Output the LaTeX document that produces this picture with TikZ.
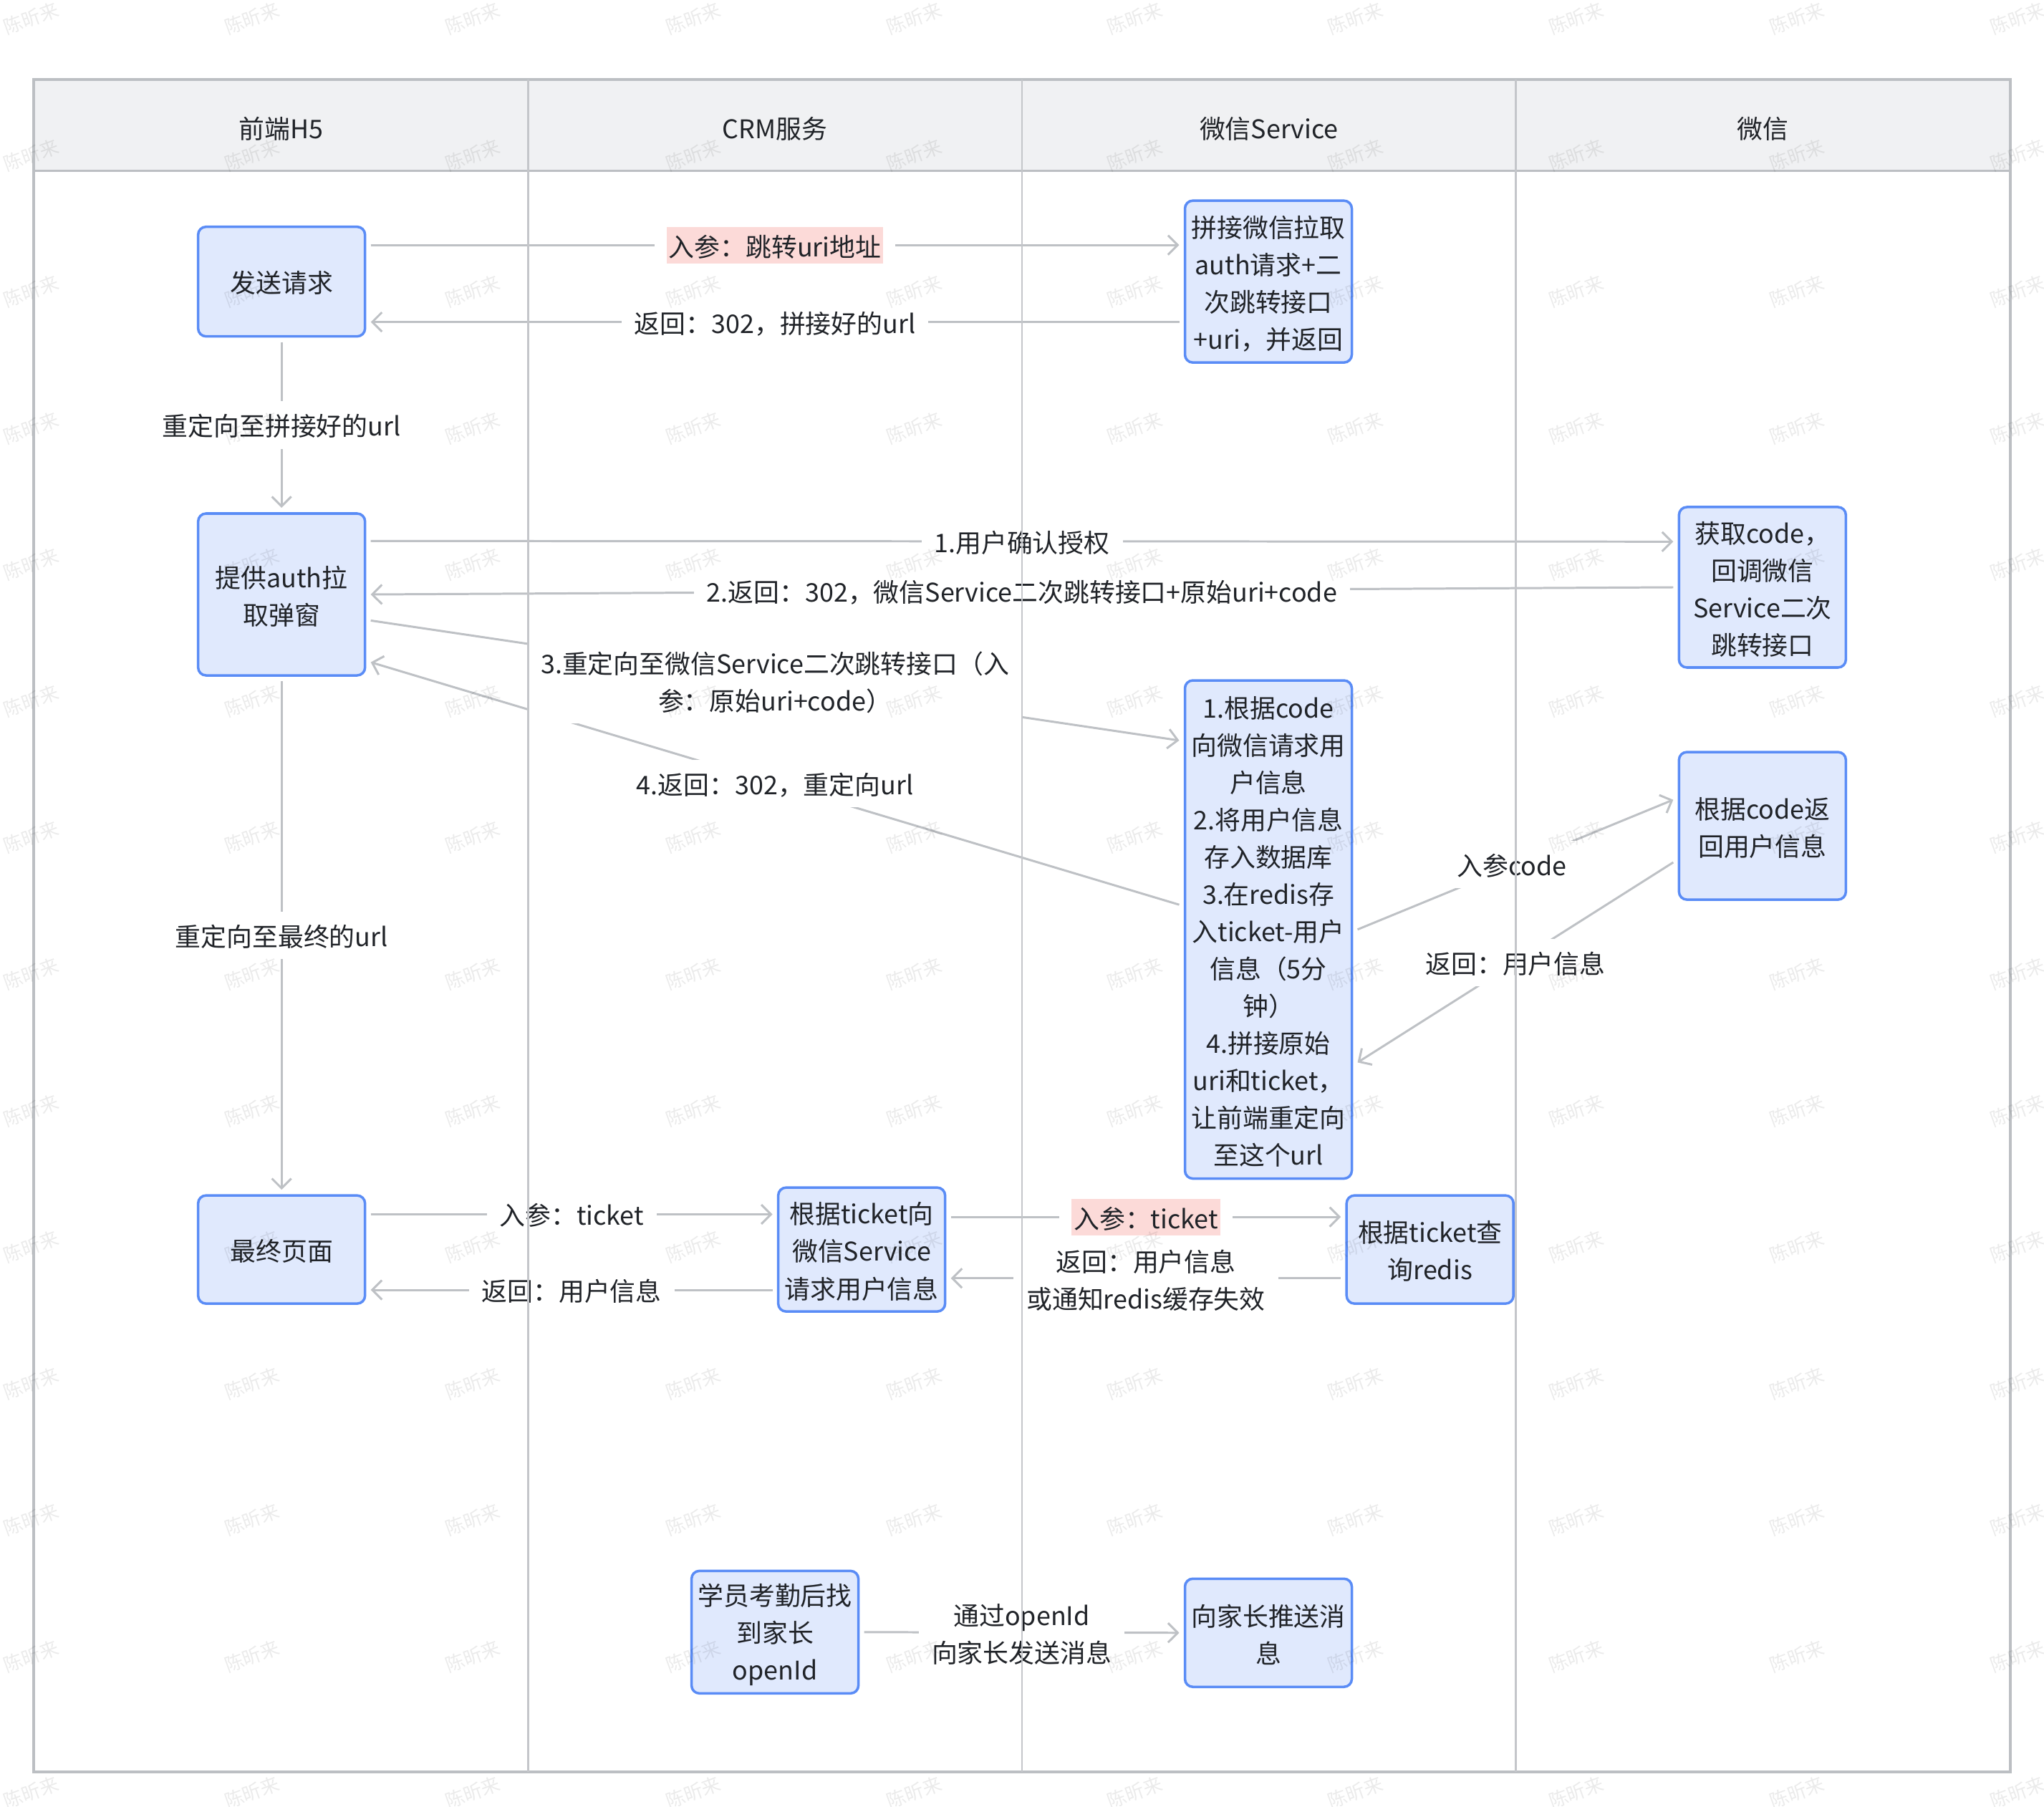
\documentclass[tikz,border=0pt]{standalone}
\usepackage{fontspec}
\setmainfont{Noto Sans CJK SC}
\usetikzlibrary{arrows.meta,calc}
\definecolor{nodefill}{HTML}{E0E9FD}
\definecolor{nodeline}{HTML}{5A8CF6}
\definecolor{edgec}{HTML}{BEC1C5}
\definecolor{lanec}{HTML}{C4C6CA}
\definecolor{framec}{HTML}{BCBFC3}
\definecolor{headfill}{HTML}{F0F1F3}
\definecolor{pinkbg}{HTML}{FCDAD8}
\definecolor{txt}{HTML}{202328}
\pgfdeclarelayer{fg}
\pgfsetlayers{main,fg}
\newcommand{\mainfs}{\fontsize{10.2pt}{14.8pt}\selectfont}
\newcommand{\T}{\rule[-1.2pt]{0pt}{11.7pt}}
\newcommand{\Ts}{\rule[-1.2pt]{0pt}{11.2pt}}
\tikzset{
  nbox/.style={draw=nodeline, fill=nodefill, line width=1pt, rounded corners=1.1mm,
    minimum width=23.3mm, inner xsep=1pt, inner ysep=1pt, outer sep=0.8mm,
    align=center, text=txt, font=\mainfs},
  conn/.style={draw=edgec, line width=0.85pt,
    -{Straight Barb[length=1.35mm,width=2.7mm]}},
  lbl/.style={fill=white, text=txt, font=\mainfs, align=center,
    inner xsep=1.8mm, inner ysep=1.35mm},
  pinklbl/.style={fill=pinkbg, text=txt, font=\mainfs, align=center,
    inner xsep=0.3mm, inner ysep=0pt, text height=11.9pt, text depth=2.6pt,
    preaction={draw=white, line width=3.4mm}},
  lanel/.style={draw=lanec, line width=0.8pt},
  hdr/.style={text=txt, font=\mainfs},
  wm/.style={text=black, text opacity=0.08, font=\fontsize{7.5pt}{9pt}\selectfont, rotate=20, inner sep=0pt},
}
\begin{document}
\begin{tikzpicture}[x=0.182mm,y=-0.182mm]
\useasboundingbox (0,0) rectangle (1568,1385.7);
% frame and header
\fill[headfill] (26,61) rectangle (1542,131);
\draw[framec, line width=1.1pt] (26,61) rectangle (1542,1359);
\draw[framec, line width=1.1pt] (26,131) -- (1542,131);
\node[hdr] (h1) at (215.5,98) {\Ts 前端H5\Ts};
\node[hdr] (h2) at (594.5,98) {\Ts CRM服务\Ts};
\node[hdr] (h3) at (973.5,98) {\Ts 微信Service\Ts};
\node[hdr] (h4) at (1352.5,98) {\Ts 微信\Ts};

% nodes
\node[nbox, minimum height=15.3mm] (send) at (216,216) {\Ts 发送请求\Ts};
\node[nbox, minimum height=22.6mm] (pinjie) at (973,216) {\T 拼接微信拉取\\auth请求+二\\次跳转接口\\+uri，并返回\T};
\node[nbox, minimum height=22.6mm] (auth) at (216,456) {\T 提供auth拉\\取弹窗\T};
\node[nbox, minimum height=22.4mm] (huoqu) at (1352,450.5) {\T 获取code，\\回调微信\\Service二次\\跳转接口\T};
\node[nbox, minimum height=69.55mm] (gen) at (973,713) {\T 1.根据code\\向微信请求用\\户信息\\2.将用户信息\\存入数据库\\3.在redis存\\入ticket-用户\\信息（5分\\钟）\\4.拼接原始\\uri和ticket，\\让前端重定向\\至这个url\T};
\node[nbox, minimum height=20.6mm] (cr) at (1352,633.5) {\T 根据code返\\回用户信息\T};
\node[nbox, minimum height=15.1mm] (final) at (216,958.5) {\Ts 最终页面\Ts};
\node[nbox, minimum height=17.3mm] (tq) at (661,958.5) {\T 根据ticket向\\微信Service\\请求用户信息\T};
\node[nbox, minimum height=15.1mm] (tr) at (1097,958.5) {\T 根据ticket查\\询redis\T};
\node[nbox, minimum height=17.1mm] (xy) at (594.5,1252) {\T 学员考勤后找\\到家长\\openId\T};
\node[nbox, minimum height=15.1mm] (tui) at (973,1252.5) {\T 向家长推送消\\息\T};

% connectors
\draw[conn] ($(send.east)+(0,-28)$) -- node[pinklbl] (l1) {入参：跳转uri地址} ($(pinjie.west)+(0,-28)$);
\draw[conn] ($(pinjie.west)+(0,31)$) -- node[lbl] (l2) {\Ts 返回：302，拼接好的url\Ts} ($(send.east)+(0,31)$);
\draw[conn] (send.south) -- node[lbl] (l3) {\Ts 重定向至拼接好的url\Ts} (auth.north);
\draw[conn] ($(auth.east)+(0,-41)$) -- node[lbl] (l4) {\Ts 1.用户确认授权\Ts} ($(huoqu.west)+(0,-35)$);
\draw[conn] (huoqu.west) -- node[lbl] (l5) {\Ts 2.返回：302，微信Service二次跳转接口+原始uri+code\Ts} (auth.east);
\draw[conn] ($(gen.west)+(0,-19)$) -- node[lbl] (l7) {\Ts 4.返回：302，重定向url\Ts} ($(auth.east)+(0,52)$);
\draw[conn] ($(auth.east)+(0,20)$) -- node[lbl] (l6) {\T 3.重定向至微信Service二次跳转接口（入\\参：原始uri+code）\T} ($(gen.west)+(0,-145)$);
\draw[conn] (gen.east) -- node[lbl, xshift=-0.5mm] (l8) {\Ts 入参code\Ts} ($(cr.west)+(0,-20)$);
\draw[conn] ($(cr.west)+(0,28)$) -- node[lbl] (l9) {\Ts 返回：用户信息\Ts} ($(gen.east)+(0,102)$);
\draw[conn] (auth.south) -- node[lbl] (l10) {\Ts 重定向至最终的url\Ts} (final.north);
\draw[conn] ($(final.east)+(0,-27)$) -- node[lbl] (l11) {\Ts 入参：ticket\Ts} ($(tq.west)+(0,-27)$);
\draw[conn] ($(tq.west)+(0,31)$) -- node[lbl] (l12) {\Ts 返回：用户信息\Ts} ($(final.east)+(0,31)$);
\draw[conn] ($(tq.east)+(0,-25)$) -- node[pinklbl] (l13) {入参：ticket} ($(tr.west)+(0,-25)$);
\draw[conn] ($(tr.west)+(0,22)$) -- node[lbl] (l14) {\T 返回：用户信息\\或通知redis缓存失效\T} ($(tq.east)+(0,22)$);
\draw[conn] (xy.east) -- node[lbl] (l15) {\T 通过openId\\向家长发送消息\T} (tui.west);

\begin{pgfonlayer}{fg}
\foreach \x in {405,784,1163} \draw[lanel] (\x,61) -- (\x,1359);
\begin{scope}
\clip (0,0) rectangle (1568,1385.7);
\foreach \i in {0,...,9}{
  \foreach \j in {0,...,13}{
    \node[wm] (wm-\i-\j) at ({24+169.3*\i},{14+104.7*\j}) {陈昕来};
  }
}
\end{scope}
\end{pgfonlayer}
\end{tikzpicture}
\end{document}
